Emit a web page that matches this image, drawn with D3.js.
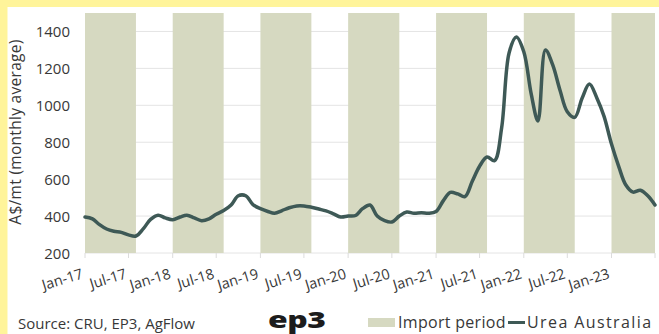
<!DOCTYPE html>
<html>
<head>
<meta charset="utf-8">
<script src="https://cdn.jsdelivr.net/npm/d3@7"></script>
<style>
  body { margin: 0; background: #fff; }
  svg { display: block; font-family: "Open Sans", sans-serif; font-weight: 500; }
</style>
</head>
<body>
<svg id="chart" width="659" height="334"></svg>
<script>
// monthly average urea price, A$/mt, Jan-17 .. Jul-23
const ureaPrice = [
  395, 385, 355, 330, 318, 312, 298, 292, 332, 382, 405, 390,   // 2017
  380, 395, 405, 390, 375, 385, 410, 430, 460, 510, 510, 462,   // 2018
  440, 425, 415, 430, 445, 455, 455, 448, 438, 428, 412, 395,   // 2019
  400, 403, 440, 460, 400, 375, 368, 400, 422, 415, 418, 415,   // 2020
  425, 485, 528, 520, 505, 590, 670, 720, 700, 880, 1285, 1370, // 2021
  1290, 1060, 915, 1300, 1220, 1080, 965, 935, 1040, 1115, 1040, 940, // 2022
  790, 665, 570, 530, 540, 510, 460                              // 2023
];
const firstMonth = new Date(2017, 0, 1);
const lastMonth = new Date(2023, 6, 1);

const importPeriods = [
  ["2017-01", "2017-08"], ["2018-01", "2018-08"], ["2019-01", "2019-08"],
  ["2020-01", "2020-08"], ["2021-01", "2021-08"], ["2022-01", "2022-08"],
  ["2023-01", "2023-08"]
];

const xTickLabels = ["Jan-17", "Jul-17", "Jan-18", "Jul-18", "Jan-19", "Jul-19", "Jan-20",
  "Jul-20", "Jan-21", "Jul-21", "Jan-22", "Jul-22", "Jan-23"];
const yTicks = [200, 400, 600, 800, 1000, 1200, 1400];

const parseMonth = d3.timeParse("%Y-%m");
const months = d3.timeMonth.range(firstMonth, d3.timeMonth.offset(lastMonth, 1));
const series = months.map((m, i) => ({ date: m, value: ureaPrice[i] }));
const tickDates = d3.timeMonth.every(6).range(firstMonth, d3.timeMonth.offset(lastMonth, 1));

const svg = d3.select("#chart");
const textColor = "#383838";
const bandColor = "#d6d9c1";
const lineColor = "#3e5956";

// yellow frame on top/left
svg.append("rect").attr("width", 659).attr("height", 334).attr("fill", "#fff49a");
svg.append("rect").attr("x", 7.5).attr("y", 7).attr("width", 660).attr("height", 330).attr("fill", "#fff");

const xScale = d3.scaleTime().domain([firstMonth, lastMonth]).range([85, 655]);
const yScale = d3.scaleLinear().domain([200, 1500]).range([253, 13]);

// gridlines
svg.append("g").selectAll("line")
  .data(yTicks)
  .enter().append("line")
  .attr("x1", xScale.range()[0]).attr("x2", xScale.range()[1])
  .attr("y1", d => yScale(d)).attr("y2", d => yScale(d))
  .attr("stroke", "#e4e4e4").attr("stroke-width", 1);

// import period bands
svg.append("g").selectAll("rect")
  .data(importPeriods)
  .enter().append("rect")
  .attr("x", d => xScale(parseMonth(d[0])))
  .attr("width", d => Math.min(xScale(parseMonth(d[1])), xScale.range()[1]) - xScale(parseMonth(d[0])))
  .attr("y", yScale.range()[1])
  .attr("height", yScale.range()[0] - yScale.range()[1])
  .attr("fill", bandColor);

// y axis labels
svg.append("g").selectAll("text")
  .data(yTicks)
  .enter().append("text")
  .attr("x", 70).attr("y", d => yScale(d) + 5.5)
  .attr("text-anchor", "end")
  .attr("font-size", 15).attr("fill", textColor)
  .text(d => d);

svg.append("text")
  .attr("transform", "translate(21,132) rotate(-90)")
  .attr("text-anchor", "middle")
  .attr("font-size", 15.5).attr("fill", textColor)
  .attr("letter-spacing", 0.3)
  .text("A$/mt (monthly average)");

// x ticks + slanted labels
svg.append("g").selectAll("line")
  .data(tickDates)
  .enter().append("line")
  .attr("x1", d => xScale(d)).attr("x2", d => xScale(d))
  .attr("y1", 253).attr("y2", 258)
  .attr("stroke", "#dcdcdc");

svg.append("g").selectAll("text")
  .data(tickDates)
  .enter().append("text")
  .attr("transform", d => `translate(${xScale(d) - 1},278) rotate(-17)`)
  .attr("text-anchor", "end")
  .attr("font-size", 14.5).attr("fill", textColor)
  .text((d, i) => xTickLabels[i]);

// price line
const line = d3.line()
  .x(d => xScale(d.date))
  .y(d => yScale(d.value))
  .curve(d3.curveCatmullRom.alpha(0.5));

svg.append("path")
  .datum(series)
  .attr("d", line)
  .attr("fill", "none")
  .attr("stroke", lineColor).attr("stroke-width", 3.5)
  .attr("stroke-linecap", "round").attr("stroke-linejoin", "round");

// footer
svg.append("text")
  .attr("x", 18).attr("y", 329)
  .attr("font-size", 15).attr("fill", textColor)
  .text("Source: CRU, EP3, AgFlow");

svg.append("text")
  .attr("transform", "translate(268,328) scale(1.45,1)")
  .attr("font-size", 22).attr("font-weight", 800).attr("fill", "#1c1c1c")
  .attr("letter-spacing", -0.3)
  .text("ep3");

svg.append("rect")
  .attr("x", 368).attr("y", 318).attr("width", 27).attr("height", 9)
  .attr("fill", bandColor);
svg.append("text")
  .attr("x", 398).attr("y", 328)
  .attr("font-size", 16).attr("fill", textColor)
  .attr("letter-spacing", 0.3)
  .text("Import period");

svg.append("line")
  .attr("x1", 508).attr("x2", 525).attr("y1", 322.5).attr("y2", 322.5)
  .attr("stroke", lineColor).attr("stroke-width", 3);
svg.append("text")
  .attr("x", 527).attr("y", 328)
  .attr("font-size", 16).attr("fill", textColor)
  .attr("letter-spacing", 1.4)
  .text("Urea Australia");
</script>
</body>
</html>
